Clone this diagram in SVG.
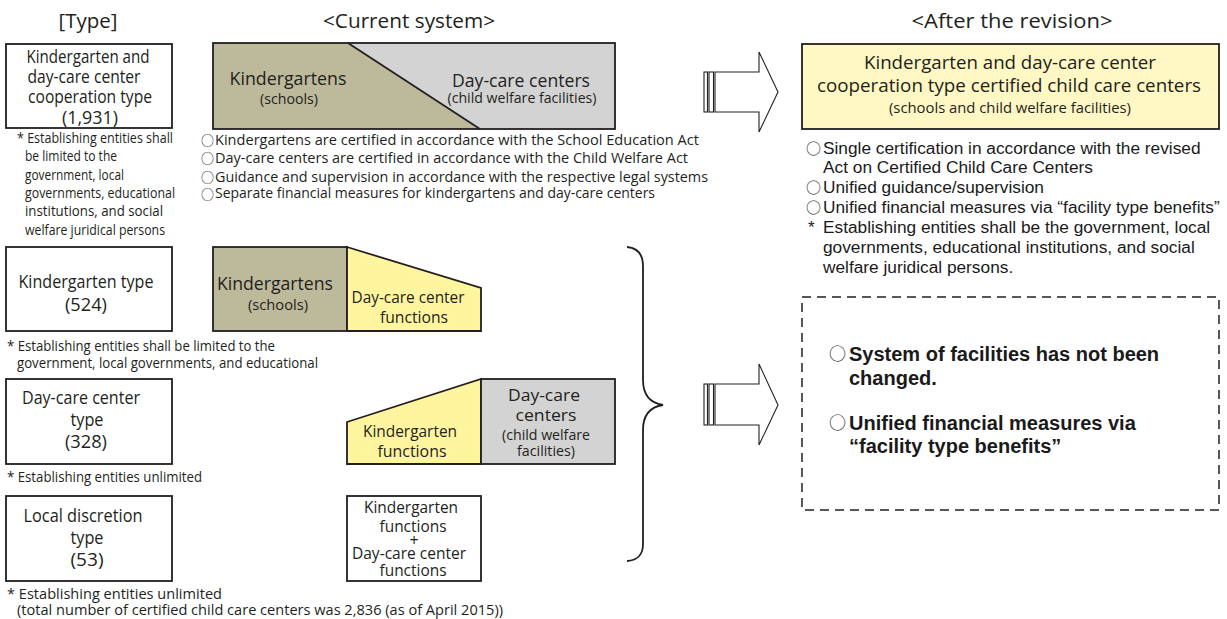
<svg xmlns="http://www.w3.org/2000/svg" width="1227" height="619" viewBox="0 0 1227 619">
<defs>
<style>
.m{font-family:"Open Sans","Noto Sans","DejaVu Sans",sans-serif;fill:#231f20}
.a{font-family:"Liberation Sans",Arial,"DejaVu Sans",sans-serif;fill:#1a1a1a}
.o{font-family:"Noto Sans CJK JP","DejaVu Sans",sans-serif;fill:#231f20;font-weight:normal}
.h{font-size:20px}
.b{font-size:18px}
.f{font-size:14px}
.c{text-anchor:middle}
.box{fill:#fff;stroke:#231f20;stroke-width:1.8}
.ln{fill:none;stroke:#231f20;stroke-width:1.8}
.arr{fill:#fff;stroke:#231f20;stroke-width:1.1}
</style>
</defs>
<rect width="1227" height="619" fill="#fff"/>

<g id="headings">
<text class="m h c" x="88" y="28" textLength="59" lengthAdjust="spacingAndGlyphs">[Type]</text>
<text class="m h c" x="409" y="28" textLength="172" lengthAdjust="spacingAndGlyphs">&lt;Current system&gt;</text>
<text class="m h c" x="1012" y="28" textLength="201" lengthAdjust="spacingAndGlyphs">&lt;After the revision&gt;</text>
</g>

<g id="type-cooperation">
<rect class="box" x="6" y="44" width="166" height="84"/>
<text class="m b c" x="88" y="63" textLength="123" lengthAdjust="spacingAndGlyphs">Kindergarten and</text>
<text class="m b c" x="84" y="83" textLength="113" lengthAdjust="spacingAndGlyphs">day-care center</text>
<text class="m b c" x="90" y="103" textLength="124" lengthAdjust="spacingAndGlyphs">cooperation type</text>
<text class="m b c" x="90" y="124" textLength="56" lengthAdjust="spacingAndGlyphs">(1,931)</text>
<g class="m f">
<text x="17" y="143" textLength="156" lengthAdjust="spacingAndGlyphs">* Establishing entities shall</text>
<text x="25" y="161" textLength="92" lengthAdjust="spacingAndGlyphs">be limited to the</text>
<text x="25" y="180" textLength="99" lengthAdjust="spacingAndGlyphs">government, local</text>
<text x="25" y="198" textLength="150" lengthAdjust="spacingAndGlyphs">governments, educational</text>
<text x="25" y="216" textLength="138" lengthAdjust="spacingAndGlyphs">institutions, and social</text>
<text x="25" y="235" textLength="140" lengthAdjust="spacingAndGlyphs">welfare juridical persons</text>
</g>
</g>

<g id="type-kindergarten">
<rect class="box" x="6" y="247" width="166" height="84"/>
<text class="m b c" x="86" y="288" textLength="135" lengthAdjust="spacingAndGlyphs">Kindergarten type</text>
<text class="m b c" x="86" y="311" textLength="42" lengthAdjust="spacingAndGlyphs">(524)</text>
<g class="m f">
<text x="7" y="351" textLength="268" lengthAdjust="spacingAndGlyphs">* Establishing entities shall be limited to the</text>
<text x="17" y="368" textLength="301" lengthAdjust="spacingAndGlyphs">government, local governments, and educational</text>
</g>
</g>

<g id="type-daycare">
<rect class="box" x="6" y="379" width="166" height="85"/>
<text class="m b c" x="81" y="404" textLength="118" lengthAdjust="spacingAndGlyphs">Day-care center</text>
<text class="m b c" x="87" y="426" textLength="33" lengthAdjust="spacingAndGlyphs">type</text>
<text class="m b c" x="86" y="448" textLength="42" lengthAdjust="spacingAndGlyphs">(328)</text>
<text class="m f" x="7" y="482" textLength="195" lengthAdjust="spacingAndGlyphs">* Establishing entities unlimited</text>
</g>

<g id="type-local">
<rect class="box" x="6" y="496" width="166" height="85"/>
<text class="m b c" x="83" y="522" textLength="119" lengthAdjust="spacingAndGlyphs">Local discretion</text>
<text class="m b c" x="87" y="544" textLength="33" lengthAdjust="spacingAndGlyphs">type</text>
<text class="m b c" x="87" y="566" textLength="33" lengthAdjust="spacingAndGlyphs">(53)</text>
<g class="m" style="font-size:15px">
<text x="7" y="599" textLength="215" lengthAdjust="spacingAndGlyphs">* Establishing entities unlimited</text>
<text x="17" y="615" textLength="486" lengthAdjust="spacingAndGlyphs">(total number of certified child care centers was 2,836 (as of April 2015))</text>
</g>
</g>

<g id="current-cooperation">
<polygon points="213,43 348,43 480,129 213,129" fill="#bdb99b"/>
<polygon points="348,43 615,43 615,129 480,129" fill="#d3d3d3"/>
<rect class="ln" x="213" y="43" width="402" height="86"/>
<line class="ln" x1="348" y1="43" x2="480" y2="129"/>
<text class="m c" style="font-size:18px" x="288" y="85" textLength="117" lengthAdjust="spacingAndGlyphs">Kindergartens</text>
<text class="m c" style="font-size:14px" x="289" y="104" textLength="58" lengthAdjust="spacingAndGlyphs">(schools)</text>
<text class="m c" style="font-size:18px" x="521" y="87" textLength="138" lengthAdjust="spacingAndGlyphs">Day-care centers</text>
<text class="m c" style="font-size:14px" x="522" y="103" textLength="149" lengthAdjust="spacingAndGlyphs">(child welfare facilities)</text>
<g style="font-size:13px">
<text class="o" x="201" y="145">○</text>
<text class="o" x="201" y="163">○</text>
<text class="o" x="201" y="182">○</text>
<text class="o" x="201" y="199">○</text>
</g>
<g class="m" style="font-size:15px">
<text x="215" y="145" textLength="484" lengthAdjust="spacingAndGlyphs">Kindergartens are certified in accordance with the School Education Act</text>
<text x="215" y="163" textLength="473" lengthAdjust="spacingAndGlyphs">Day-care centers are certified in accordance with the Child Welfare Act</text>
<text x="215" y="182" textLength="493" lengthAdjust="spacingAndGlyphs">Guidance and supervision in accordance with the respective legal systems</text>
<text x="215" y="198" textLength="440" lengthAdjust="spacingAndGlyphs">Separate financial measures for kindergartens and day-care centers</text>
</g>
</g>

<g id="current-kindergarten">
<rect x="213" y="247" width="134" height="84" fill="#bdb99b" stroke="#231f20" stroke-width="1.8"/>
<polygon points="347,247 481,288 481,331 347,331" fill="#fff59e" stroke="#231f20" stroke-width="1.8"/>
<text class="m c" style="font-size:18px" x="275" y="290" textLength="116" lengthAdjust="spacingAndGlyphs">Kindergartens</text>
<text class="m c" style="font-size:14px" x="278" y="310" textLength="60" lengthAdjust="spacingAndGlyphs">(schools)</text>
<text class="m c" style="font-size:16px" x="408" y="303" textLength="113" lengthAdjust="spacingAndGlyphs">Day-care center</text>
<text class="m c" style="font-size:16px" x="414" y="323" textLength="68" lengthAdjust="spacingAndGlyphs">functions</text>
</g>

<g id="current-daycare">
<polygon points="347,422 481,379 481,464 347,464" fill="#fff59e" stroke="#231f20" stroke-width="1.8"/>
<rect x="481" y="379" width="134" height="85" fill="#d3d3d3" stroke="#231f20" stroke-width="1.8"/>
<text class="m c" style="font-size:16px" x="410" y="437" textLength="94" lengthAdjust="spacingAndGlyphs">Kindergarten</text>
<text class="m c" style="font-size:16px" x="412" y="457" textLength="69" lengthAdjust="spacingAndGlyphs">functions</text>
<text class="m c" style="font-size:17px" x="544" y="401" textLength="72" lengthAdjust="spacingAndGlyphs">Day-care</text>
<text class="m c" style="font-size:17px" x="546" y="421" textLength="61" lengthAdjust="spacingAndGlyphs">centers</text>
<text class="m c" style="font-size:15px" x="546" y="440" textLength="88" lengthAdjust="spacingAndGlyphs">(child welfare</text>
<text class="m c" style="font-size:15px" x="546" y="456" textLength="58" lengthAdjust="spacingAndGlyphs">facilities)</text>
</g>

<g id="current-local">
<rect class="box" x="347" y="496" width="134" height="85"/>
<g class="m c" style="font-size:16px">
<text x="411" y="513" textLength="94" lengthAdjust="spacingAndGlyphs">Kindergarten</text>
<text x="413" y="532" textLength="67" lengthAdjust="spacingAndGlyphs">functions</text>
<text x="414" y="546">+</text>
<text x="409" y="559" textLength="114" lengthAdjust="spacingAndGlyphs">Day-care center</text>
<text x="413" y="576" textLength="67" lengthAdjust="spacingAndGlyphs">functions</text>
</g>
</g>

<g id="revision-certified">
<rect x="802" y="44" width="417" height="85" fill="#fff7c4" stroke="#231f20" stroke-width="1.8"/>
<text class="m c" style="font-size:19px" x="1010" y="69" textLength="292" lengthAdjust="spacingAndGlyphs">Kindergarten and day-care center</text>
<text class="m c" style="font-size:19px" x="1009" y="92" textLength="384" lengthAdjust="spacingAndGlyphs">cooperation type certified child care centers</text>
<text class="m c" style="font-size:15px" x="1010" y="113" textLength="242" lengthAdjust="spacingAndGlyphs">(schools and child welfare facilities)</text>
<g style="font-size:15px">
<text class="o" x="806" y="154">○</text>
<text class="o" x="806" y="193">○</text>
<text class="o" x="806" y="213">○</text>
</g>
<g class="a" style="font-size:17.3px">
<text x="823" y="154">Single certification in accordance with the revised</text>
<text x="823" y="173">Act on Certified Child Care Centers</text>
<text x="823" y="193">Unified guidance/supervision</text>
<text x="823" y="213">Unified financial measures via “facility type benefits”</text>
<text x="808" y="233">*</text>
<text x="823" y="233">Establishing entities shall be the government, local</text>
<text x="823" y="253">governments, educational institutions, and social</text>
<text x="823" y="273">welfare juridical persons.</text>
</g>
</g>

<g id="revision-others">
<rect x="802" y="297" width="417" height="213" fill="none" stroke="#231f20" stroke-width="1.5" stroke-dasharray="9 6"/>
<g style="font-size:17px">
<text class="o" x="829" y="360">○</text>
<text class="o" x="829" y="429">○</text>
</g>
<g class="a" style="font-size:20px;font-weight:bold">
<text x="849" y="361">System of facilities has not been</text>
<text x="849" y="385">changed.</text>
<text x="849" y="430">Unified financial measures via</text>
<text x="849" y="453">“facility type benefits”</text>
</g>
</g>

<g id="connectors">
<rect class="arr" x="704" y="72" width="3.5" height="40"/>
<rect class="arr" x="709" y="72" width="4.5" height="40"/>
<path class="arr" d="M715,72 H759 V52 L778,92 L759,132 V112 H715 Z"/>
<rect class="arr" x="704" y="384" width="3.5" height="41"/>
<rect class="arr" x="709" y="384" width="4.5" height="41"/>
<path class="arr" d="M715,384 H759 V364 L778,405 L759,445 V425 H715 Z"/>
<path d="M627,247 C638,248 643,254 643,266 V380 C643,395 650,403 663,405 C650,407 643,415 643,430 V544 C643,555 638,560 627,561" fill="none" stroke="#231f20" stroke-width="1.8"/>
</g>
</svg>
